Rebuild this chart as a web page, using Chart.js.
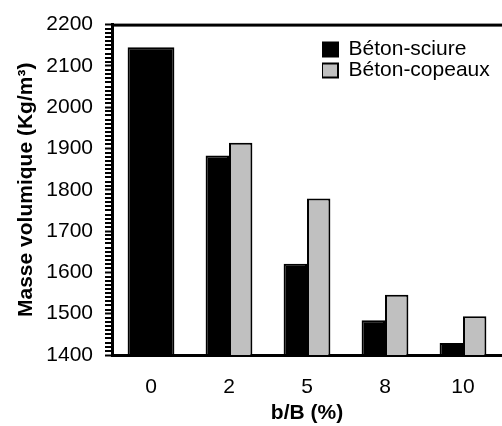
<!DOCTYPE html>
<html>
<head>
<meta charset="utf-8">
<script src="https://cdn.jsdelivr.net/npm/chart.js@4/dist/chart.umd.min.js"></script>
<style>
  body { margin: 0; background: #fff; }
  #wrap { width: 502px; height: 426px; }
</style>
</head>
<body>
<div id="wrap"><canvas id="densityChart" width="502" height="426"></canvas></div>
<script>
// b/B ratio (%)
const categories = ["0", "2", "5", "8", "10"];
// density values (Kg/m3)
const sciure = [2145, 1883, 1621, 1484, 1429];
const copeaux = [null, 1914, 1779, 1546, 1494];
const yTicks = [1400, 1500, 1600, 1700, 1800, 1900, 2000, 2100, 2200];

const fontFamily = "'Liberation Sans', Arial, sans-serif";

// small ticks (10 per interval) on the y axis + top frame line
const framePlugin = {
  id: "frame",
  afterDraw(chart) {
    const c = chart.ctx;
    const area = chart.chartArea;
    const yScale = chart.scales.y;
    c.save();
    c.fillStyle = "#000";
    c.fillRect(area.left - 1, area.top - 1, area.right - area.left + 1, 3);
    for (let i = 0; i < yTicks.length - 1; i++) {
      const a = yTicks[i];
      const step = (yTicks[i + 1] - a) / 10;
      for (let k = 1; k < 10; k++) {
        const py = Math.round(yScale.getPixelForValue(a + k * step));
        c.fillRect(area.left - 7, py - 1, 7, 2);
      }
    }
    c.restore();
  },
  afterLayout(chart) {
    // put the legend inside the plot, top right
    chart.legend.left = 322;
    chart.legend.top = 39;
  }
};

const ctx = document.getElementById("densityChart").getContext("2d");
new Chart(ctx, {
  type: "bar",
  data: {
    labels: categories,
    datasets: [
      {
        label: "Béton-sciure",
        data: sciure,
        backgroundColor: "#000000",
        borderColor: "#000000",
        borderWidth: 2,
        skipNull: true
      },
      {
        label: "Béton-copeaux",
        data: copeaux,
        backgroundColor: "#c0c0c0",
        borderColor: "#000000",
        borderWidth: 2,
        skipNull: true
      }
    ]
  },
  options: {
    responsive: false,
    animation: false,
    layout: { padding: { left: 0, top: 21, right: 0, bottom: 0 } },
    datasets: {
      bar: { categoryPercentage: 0.6, barPercentage: 1.0 }
    },
    scales: {
      x: {
        grid: { display: true, drawOnChartArea: false, drawTicks: false },
        border: { display: true, color: "#000", width: 3 },
        ticks: { color: "#000", padding: 20, font: { family: fontFamily, size: 21 } },
        title: {
          display: true,
          text: "b/B (%)",
          color: "#000",
          padding: { top: 0, bottom: 0 },
          font: { family: fontFamily, size: 21, weight: "bold" }
        },
        afterFit(scale) { scale.height = 71; }
      },
      y: {
        min: 1400,
        max: 2200,
        afterBuildTicks(scale) {
          scale.ticks = yTicks.map(v => ({ value: v }));
        },
        grid: { display: true, drawOnChartArea: false, drawTicks: true, tickLength: 7, tickWidth: 2, color: "#000" },
        border: { display: true, color: "#000", width: 3 },
        ticks: {
          color: "#000",
          padding: 12,
          font: { family: fontFamily, size: 21 },
          callback: v => String(v)
        },
        title: {
          display: true,
          text: "Masse volumique (Kg/m³)",
          color: "#000",
          padding: { top: 14, bottom: 0 },
          font: { family: fontFamily, size: 21, weight: "bold" }
        },
        afterFit(scale) { scale.width = 112; }
      }
    },
    plugins: {
      legend: {
        position: "chartArea",
        align: "start",
        labels: {
          color: "#000",
          boxWidth: 16,
          boxHeight: 14,
          padding: 0,
          font: { family: fontFamily, size: 21 }
        }
      },
      tooltip: { enabled: false }
    }
  },
  plugins: [framePlugin]
});
</script>
</body>
</html>
